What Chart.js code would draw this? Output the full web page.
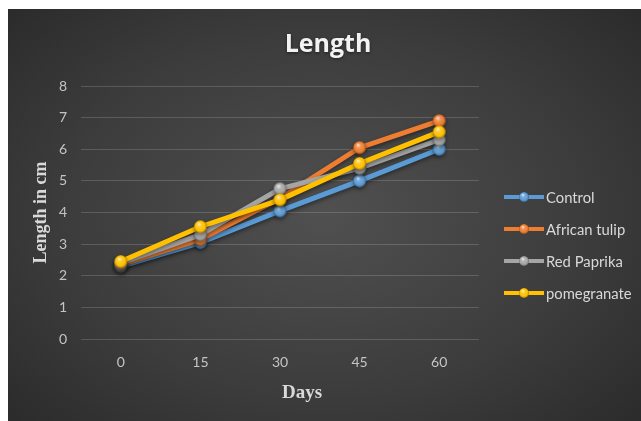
<!DOCTYPE html>
<html>
<head>
<meta charset="utf-8">
<script src="https://cdn.jsdelivr.net/npm/chart.js@4/dist/chart.umd.min.js"></script>
<style>
  html, body { margin: 0; padding: 0; background: #ffffff; }
  #wrap {
    position: absolute; left: 8px; top: 9px; width: 633px; height: 412px;
    background: radial-gradient(ellipse 75% 80% at 50% 50%, #505050 0%, #3c3c3c 55%, #272727 100%);
  }
  canvas { display: block; }
</style>
</head>
<body>
<div id="wrap"><canvas id="c" width="633" height="412"></canvas></div>
<script>
// Plant length over time for each treatment
const days = ['0', '15', '30', '45', '60'];
const control      = [2.3, 3.05, 4.05, 5.0, 6.0];
const africanTulip = [2.35, 3.15, 4.45, 6.05, 6.9];
const redPaprika   = [2.4, 3.3, 4.75, 5.4, 6.3];
const pomegranate  = [2.45, 3.55, 4.4, 5.55, 6.55];
const seriesNames  = ['Control', 'African tulip', 'Red Paprika', 'pomegranate'];
const seriesColors = ['#5b9bd5', '#ed7d31', '#a5a5a5', '#ffc000'];

function mix(hex, target, t) {
  const n = parseInt(hex.slice(1), 16);
  const r = (n >> 16) & 255, g = (n >> 8) & 255, b = n & 255;
  const m = v => Math.round(v + (target - v) * t);
  return 'rgb(' + m(r) + ',' + m(g) + ',' + m(b) + ')';
}

// Glossy ball marker
function sphere(color, r) {
  const s = Math.ceil(r * 2) + 2;
  const c = document.createElement('canvas');
  c.width = c.height = s;
  const g = c.getContext('2d');
  const cx = s / 2, cy = s / 2;
  const grad = g.createRadialGradient(cx - r * 0.25, cy - r * 0.45, r * 0.05, cx, cy, r);
  grad.addColorStop(0, mix(color, 255, 0.75));
  grad.addColorStop(0.35, mix(color, 255, 0.15));
  grad.addColorStop(0.75, color);
  grad.addColorStop(1, mix(color, 0, 0.35));
  g.fillStyle = grad;
  g.beginPath();
  g.arc(cx, cy, r, 0, Math.PI * 2);
  g.fill();
  return c;
}

const values = [control, africanTulip, redPaprika, pomegranate];
const plotBalls = seriesColors.map(c => sphere(c, 6.5));
const legendBalls = seriesColors.map(c => sphere(c, 5));

const datasets = values.map((v, i) => ({
  label: seriesNames[i],
  data: v,
  borderColor: seriesColors[i],
  backgroundColor: seriesColors[i],
  borderWidth: 5,
  pointStyle: plotBalls[i],
  pointRadius: 6,
  tension: 0,
  order: values.length - i
}));

const lineShadow = {
  id: 'lineShadow',
  beforeDatasetsDraw(chart) {
    const ctx = chart.ctx;
    ctx.save();
    ctx.shadowColor = 'rgba(0,0,0,0.45)';
    ctx.shadowBlur = 4;
    ctx.shadowOffsetY = 2;
  },
  afterDatasetsDraw(chart) { chart.ctx.restore(); }
};

const sideLegend = {
  id: 'sideLegend',
  afterDraw(chart) {
    const ctx = chart.ctx;
    ctx.save();
    ctx.font = '14.8px Lato, "Open Sans", sans-serif';
    ctx.textBaseline = 'middle';
    ctx.textAlign = 'left';
    chart.data.datasets.forEach((ds, i) => {
      const y = 188 + i * 32;
      ctx.strokeStyle = ds.borderColor;
      ctx.lineWidth = 4;
      ctx.beginPath();
      ctx.moveTo(496, y);
      ctx.lineTo(536, y);
      ctx.stroke();
      const b = legendBalls[i];
      ctx.drawImage(b, 516 - b.width / 2, y - b.height / 2);
      ctx.fillStyle = '#d9d9d9';
      ctx.fillText(ds.label, 538, y + 1);
    });
    ctx.restore();
  }
};

// Chart heading and horizontal axis caption
const captions = {
  id: 'captions',
  afterDraw(chart) {
    const ctx = chart.ctx;
    ctx.save();
    ctx.textAlign = 'center';
    ctx.textBaseline = 'middle';
    ctx.shadowColor = 'rgba(0,0,0,0.5)';
    ctx.shadowBlur = 3;
    ctx.shadowOffsetY = 1;
    ctx.font = 'bold 25px "Open Sans", sans-serif';
    ctx.fillStyle = '#f2f2f2';
    ctx.fillText('Length', 320, 36);
    ctx.shadowColor = 'transparent';
    ctx.font = 'bold 19px "Liberation Serif", "DejaVu Serif", serif';
    ctx.fillStyle = '#d9d9d9';
    ctx.fillText('Days', 294, 384);
    ctx.restore();
  }
};

new Chart(document.getElementById('c'), {
  type: 'line',
  data: { labels: days, datasets },
  plugins: [lineShadow, sideLegend, captions],
  options: {
    responsive: false,
    animation: false,
    layout: { padding: { left: 0, right: 162, top: 77, bottom: 0 } },
    plugins: {
      legend: { display: false },
      tooltip: { enabled: false },
      title: { display: false }
    },
    scales: {
      x: {
        offset: true,
        grid: { display: false, drawTicks: false },
        border: { display: false },
        ticks: { color: '#c4c4c4', padding: 15, font: { family: 'Lato, "Open Sans", sans-serif', size: 14 } },
        afterFit(s) { s.height = 82; }
      },
      y: {
        min: 0, max: 8,
        ticks: { stepSize: 1, color: '#c4c4c4', padding: 14, font: { family: 'Lato, "Open Sans", sans-serif', size: 14 } },
        grid: { color: 'rgba(255,255,255,0.16)', lineWidth: 1, drawTicks: false },
        border: { display: false },
        title: {
          display: true,
          text: 'Length in cm',
          color: '#d9d9d9',
          font: { family: '"Liberation Serif", "DejaVu Serif", serif', size: 18, weight: 'bold' },
          padding: { top: 23, bottom: 0 }
        },
        afterFit(s) { s.width = 73; }
      }
    }
  }
});
</script>
</body>
</html>
